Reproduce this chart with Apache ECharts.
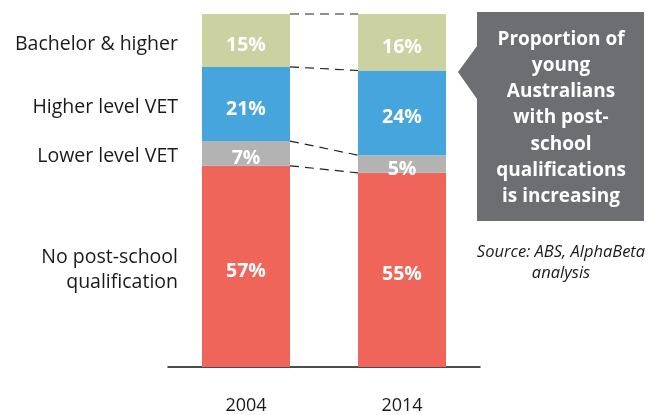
<!DOCTYPE html>
<html>
<head>
<meta charset="utf-8">
<script src="https://cdn.jsdelivr.net/npm/echarts@6/dist/echarts.min.js"></script>
<style>
  html, body { margin: 0; padding: 0; background: #fff; }
  #chart { width: 664px; height: 415px; }
</style>
</head>
<body>
<div id="chart"></div>
<script>
// data, stacked bottom to top
var years = ['2004', '2014'];
var noPostSchool = [57, 55];
var lowerVet = [7, 5];
var higherVet = [21, 24];
var bachelor = [15, 16];
var segmentNames = ['No post-school\nqualification', 'Lower level VET', 'Higher level VET', 'Bachelor & higher'];
var calloutLines = ['Proportion of', 'young', 'Australians', 'with post-', 'school', 'qualifications', 'is increasing'];
var sourceLines = ['Source: ABS, AlphaBeta', 'analysis'];

var colors = ['#f0655a', '#b3b3b3', '#45a5dc', '#cbd1a1'];
var FONT = '"Open Sans", sans-serif';
var BAR_W = 88;

var stacks = [noPostSchool, lowerVet, higherVet, bachelor];

// cumulative tops of each segment, per year
var tops = [];
var mids = [];
var run = [0, 0];
stacks.forEach(function (s) {
  var prev = run.slice();
  run = [run[0] + s[0], run[1] + s[1]];
  tops.push([0, run[0], run[1]]);
  mids.push([0, (prev[0] + run[0]) / 2]);
});

var chart = echarts.init(document.getElementById('chart'));

var series = stacks.map(function (vals, i) {
  return {
    type: 'bar',
    stack: 'total',
    barWidth: BAR_W,
    data: vals,
    itemStyle: { color: colors[i] },
    label: {
      show: true,
      position: 'inside',
      offset: [0, 5],
      formatter: '{c}%',
      color: '#fff',
      fontFamily: FONT,
      fontWeight: 'bold',
      fontSize: 19.5
    },
    silent: true
  };
});

// dashed connectors between the bars
series.push({
  type: 'custom',
  data: tops,
  encode: { x: 0, y: [1, 2] },
  silent: true,
  z: 5,
  renderItem: function (params, api) {
    var a = api.coord([0, api.value(1)]);
    var b = api.coord([1, api.value(2)]);
    return {
      type: 'line',
      shape: { x1: a[0] + BAR_W / 2, y1: a[1], x2: b[0] - BAR_W / 2, y2: b[1] },
      style: { stroke: '#222', lineWidth: 1.2, lineDash: [9, 6] }
    };
  }
});

// category names to the left of the 2004 bar
series.push({
  type: 'custom',
  data: mids,
  encode: { x: 0, y: 1 },
  silent: true,
  renderItem: function (params, api) {
    var p = api.coord([0, api.value(1)]);
    return {
      type: 'text',
      x: p[0] - BAR_W / 2 - 24,
      y: p[1] + 3.5,
      style: {
        text: segmentNames[params.dataIndex],
        align: 'right',
        verticalAlign: 'middle',
        fill: '#1a1a1a',
        font: '19.5px ' + FONT,
        lineHeight: 25
      }
    };
  }
});

var option = {
  animation: false,
  grid: { left: 168, right: 184, top: 14, bottom: 44 },
  xAxis: {
    type: 'category',
    data: years,
    axisTick: { show: false },
    axisLine: { lineStyle: { color: '#111', width: 1.5 } },
    axisLabel: { color: '#1a1a1a', fontFamily: FONT, fontSize: 18, margin: 30 }
  },
  yAxis: { type: 'value', min: 0, max: 100, show: false, splitLine: { show: false } },
  series: series,
  graphic: [
    {
      type: 'polygon',
      shape: { points: [[477, 12], [644, 12], [644, 221], [477, 221], [477, 99], [458, 72], [477, 46]] },
      style: { fill: '#6d6e71' },
      silent: true
    },
    {
      type: 'text',
      x: 561, y: 118,
      style: {
        text: calloutLines.join('\n'),
        align: 'center',
        verticalAlign: 'middle',
        fill: '#fff',
        font: 'bold 19px ' + FONT,
        lineHeight: 26.3
      }
    },
    {
      type: 'text',
      x: 561, y: 263,
      style: {
        text: sourceLines.join('\n'),
        align: 'center',
        verticalAlign: 'middle',
        fill: '#1a1a1a',
        font: 'italic 16.5px ' + FONT,
        lineHeight: 21
      }
    }
  ]
};

chart.setOption(option);
</script>
</body>
</html>
